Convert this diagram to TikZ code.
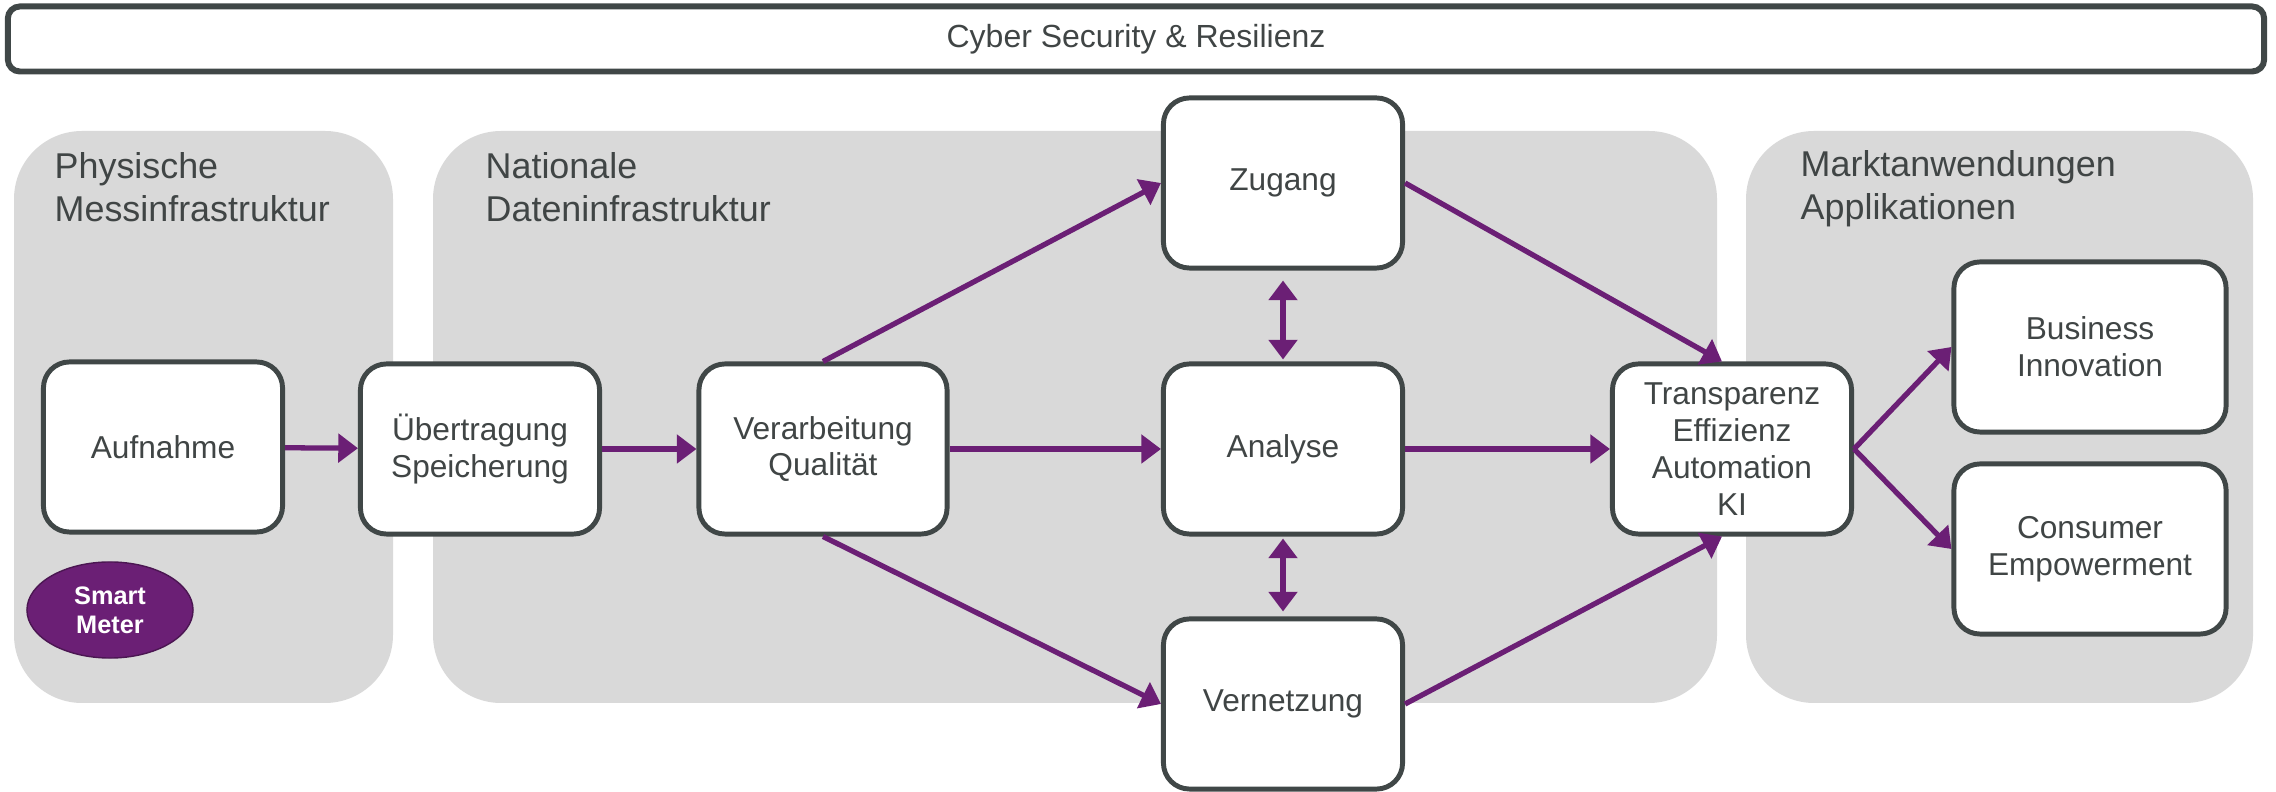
\documentclass[tikz,border=0pt]{standalone}
\usepackage{fontspec}
\setmainfont{Liberation Sans}
\usetikzlibrary{arrows.meta, shapes.geometric}

\definecolor{lila}{HTML}{6B1F75}
\definecolor{hellgrau}{HTML}{D9D9D9}
\definecolor{rand}{HTML}{404747}
\definecolor{schrift}{HTML}{404545}

\begin{document}
\begin{tikzpicture}[x=0.01cm, y=-0.01cm,
	box/.style={draw=rand, line width=1.4pt, fill=white, rounded corners=0.26cm,
		minimum width=2.39cm, minimum height=1.70cm, align=center, text=schrift,
		font=\fontsize{9}{10.5}\selectfont},
	titel/.style={anchor=north west, inner sep=0pt, align=left, text=schrift,
		font=\fontsize{10.2}{12.3}\selectfont},
	panel/.style={fill=hellgrau, rounded corners=0.68cm},
	pfeil/.style={draw=lila, line width=1.5pt, -{Triangle[length=5.6pt,width=8pt]}},
	doppel/.style={pfeil, {Triangle[length=5.6pt,width=8pt]}-{Triangle[length=5.6pt,width=8pt]}}]
		\useasboundingbox (0,0) rectangle (2276,792);
		% Hintergrund
		\fill[panel] (14,131) rectangle (393,703);
		\fill[panel] (433,131) rectangle (1717,703);
		\fill[panel] (1746,131) rectangle (2253,703);
		\node[draw=rand, line width=1.7pt, rounded corners=0.12cm, minimum width=22.55cm,
			minimum height=0.65cm, text=schrift, font=\fontsize{9.1}{11}\selectfont]
			(cyber) at (1136,39) {Cyber Security \& Resilienz};
		\node[titel] (physisch) at (54,152) {Physische\\Messinfrastruktur};
		\node[titel] (national) at (485,152) {Nationale\\Dateninfrastruktur};
		\node[titel] (markt) at (1800,150) {Marktanwendungen\\Applikationen};
		% Kaesten
		\node[box] (aufnahme) at (163,447) {Aufnahme};
		\node[box] (uebertragung) at (480,449) {Übertragung\\Speicherung};
		\node[box, minimum width=2.48cm] (verarbeitung) at (823,449) {Verarbeitung\\Qualität};
		\node[box] (zugang) at (1283,183) {Zugang};
		\node[box] (analyse) at (1283,449) {Analyse};
		\node[box] (vernetzung) at (1283,704) {Vernetzung};
		\node[box] (transparenz) at (1732,449) {Transparenz\\Effizienz\\Automation\\KI};
		\node[box, minimum width=2.72cm] (business) at (2090,347) {Business\\Innovation};
		\node[box, minimum width=2.72cm] (consumer) at (2090,549) {Consumer\\Empowerment};
		\node[ellipse, fill=lila, draw=lila!70!black, minimum width=1.66cm, minimum height=0.96cm,
			inner sep=0pt, align=center, text=white, font=\fontsize{7.2}{8.3}\selectfont\bfseries]
			(smart) at (110,610) {Smart\\Meter};
		% Pfeile
		\draw[pfeil] (aufnahme) -- (uebertragung);
		\draw[pfeil] (uebertragung) -- (verarbeitung);
		\draw[pfeil] (verarbeitung) -- (analyse);
		\draw[pfeil] (verarbeitung.north) -- (zugang.west);
		\draw[pfeil] (verarbeitung.south) -- (vernetzung.west);
		\draw[pfeil] (zugang.east) -- ([xshift=-0.1cm]transparenz.north);
		\draw[pfeil] (analyse) -- (transparenz);
		\draw[pfeil] (vernetzung.east) -- ([xshift=-0.1cm]transparenz.south);
		\draw[pfeil] (transparenz.east) -- (business.west);
		\draw[pfeil] (transparenz.east) -- (consumer.west);
		\draw[doppel, shorten <=0.1cm, shorten >=0.02cm] (zugang) -- (analyse);
		\draw[doppel, shorten <=0.02cm, shorten >=0.05cm] (analyse) -- (vernetzung);
\end{tikzpicture}
\end{document}
